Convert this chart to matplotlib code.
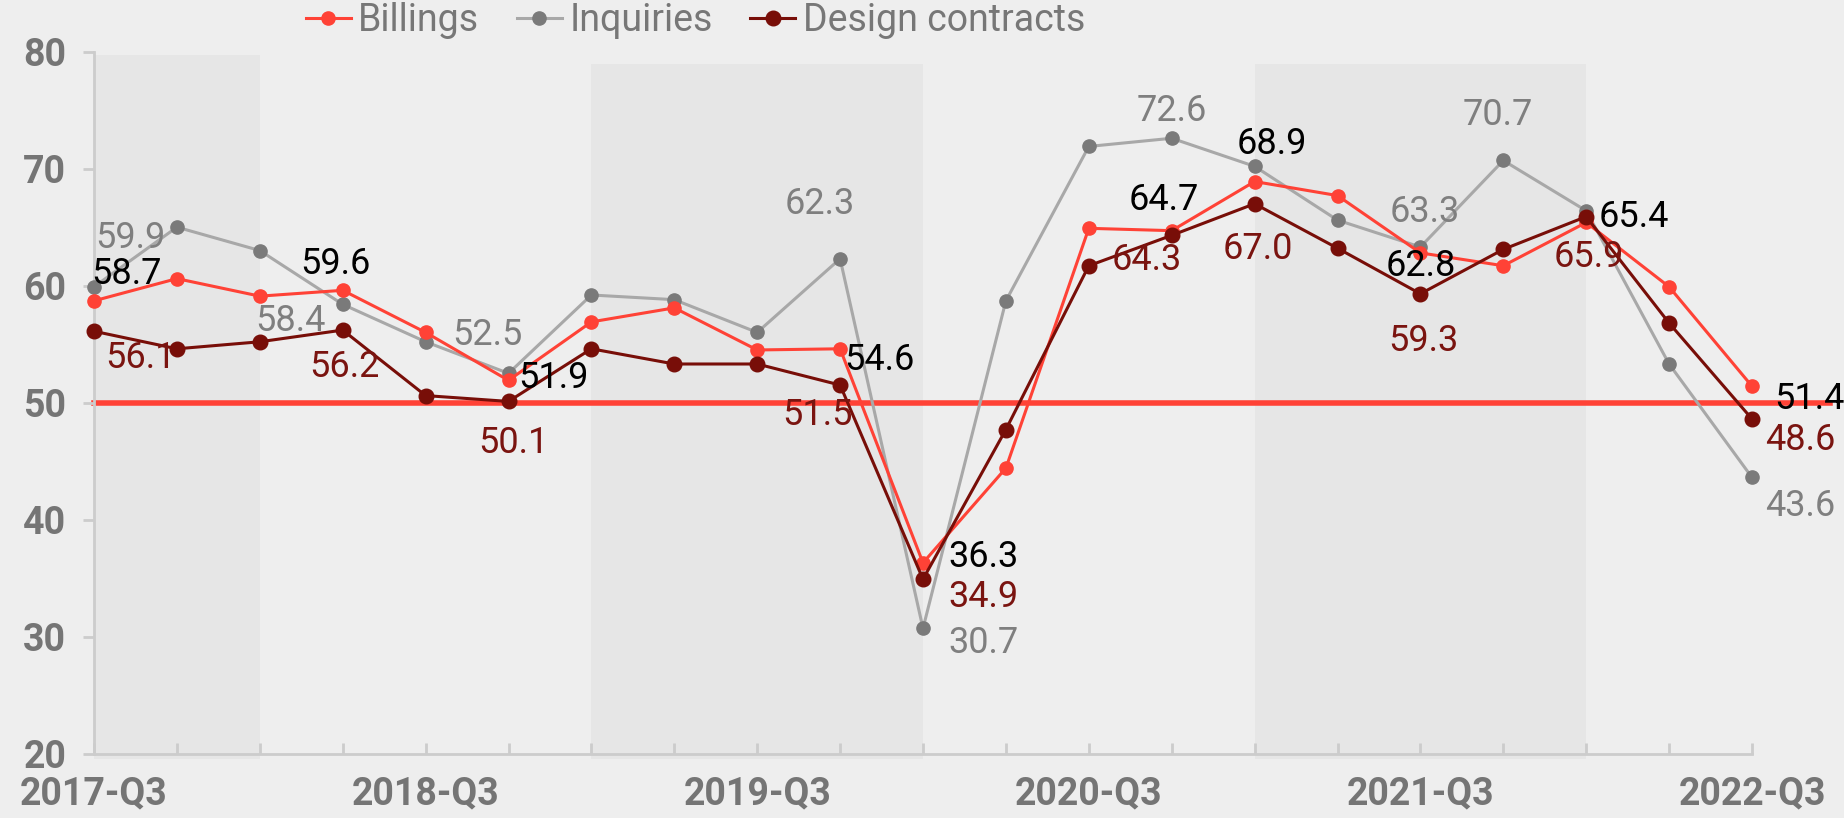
import matplotlib
matplotlib.use("Agg")
import matplotlib.pyplot as plt

# quarterly indices, 2017-Q3 .. 2022-Q3
quarters = ["2017-Q3", "2017-Q4", "2018-Q1", "2018-Q2", "2018-Q3", "2018-Q4",
            "2019-Q1", "2019-Q2", "2019-Q3", "2019-Q4", "2020-Q1", "2020-Q2",
            "2020-Q3", "2020-Q4", "2021-Q1", "2021-Q2", "2021-Q3", "2021-Q4",
            "2022-Q1", "2022-Q2", "2022-Q3"]
billings = [58.7, 60.6, 59.1, 59.6, 56.0, 51.9, 56.9, 58.1, 54.5, 54.6, 36.3,
            44.4, 64.9, 64.7, 68.9, 67.7, 62.8, 61.7, 65.4, 59.9, 51.4]
inquiries = [59.9, 65.0, 63.0, 58.4, 55.2, 52.5, 59.2, 58.8, 56.0, 62.3, 30.7,
             58.7, 71.9, 72.6, 70.2, 65.6, 63.3, 70.7, 66.4, 53.3, 43.6]
design = [56.1, 54.6, 55.2, 56.2, 50.6, 50.1, 54.6, 53.3, 53.3, 51.5, 34.9,
          47.7, 61.7, 64.3, 67.0, 63.2, 59.3, 63.1, 65.9, 56.8, 48.6]
threshold = 50

# label placement: index -> (dx px, dy px down, ha)
bill_lab = {0: (-3, -30, "left"), 3: (-7, -29, "center"), 5: (10, -5, "left"),
            9: (4, 8, "left"), 10: (25, -9, "left"), 13: (-8, -34, "center"),
            14: (17, -41, "center"), 16: (0, 10, "center"), 18: (12, -8, "left"),
            20: (22, 10, "left")}
inq_lab = {0: (1, -52, "left"), 3: (-52, 14, "center"), 5: (-21, -41, "center"),
           9: (-20, -58, "center"), 10: (25, 12, "left"), 13: (0, -30, "center"),
           16: (4, -38, "center"), 17: (-5, -48, "center"), 20: (13, 26, "left")}
des_lab = {0: (11, 24, "left"), 3: (2, 34, "center"), 5: (5, 39, "center"),
           9: (-23, 27, "center"), 10: (25, 15, "left"), 13: (-25, 22, "center"),
           14: (3, 42, "center"), 16: (3, 44, "center"), 18: (3, 37, "center"),
           20: (13, 18, "left")}

RED = "#FF4236"
DARK = "#780E08"
GREY_L = "#A8A8A8"
GREY_M = "#7A7A7A"
BG = "#EEEEEE"

fig = plt.figure(figsize=(18.44, 8.18), dpi=100, facecolor=BG)
ax = fig.add_axes([94 / 1844, 1 - 753.5 / 818, (1752 - 94) / 1844, (753.5 - 51.7) / 818])
ax.set_facecolor(BG)

x = list(range(len(quarters)))

# alternating year bands
for a, b, top in [(0, 2, 0.995), (6, 10, 0.982), (14, 18, 0.982)]:
    ax.axvspan(a, b, ymin=-0.008, ymax=top, color="#E6E6E6", lw=0, zorder=0, clip_on=False)

ax.axhline(threshold, xmin=0, xmax=1.047, color=RED, lw=4, zorder=1, clip_on=False)

ax.plot(x, inquiries, color=GREY_L, lw=2.2, marker="o", ms=9.5, mfc=GREY_M, mec=GREY_M,
        label="Inquiries", zorder=3, clip_on=False)
ax.plot(x, billings, color=RED, lw=2.2, marker="o", ms=9.5, mfc=RED, mec=RED,
        label="Billings", zorder=4, clip_on=False)
ax.plot(x, design, color=DARK, lw=2.2, marker="o", ms=10.5, mfc=DARK, mec=DARK,
        label="Design contracts", zorder=5, clip_on=False)

lab_font = dict(family="Roboto", weight="normal", size=26)
for vals, labs, col in [(billings, bill_lab, "black"), (inquiries, inq_lab, "#7F7F7F"),
                        (design, des_lab, "#7A1410")]:
    for i, (dx, dy, ha) in labs.items():
        ax.annotate(f"{vals[i]:.1f}", (x[i], vals[i]), xytext=(dx, -(dy + 13)),
                    textcoords="offset pixels", ha=ha, va="baseline", color=col,
                    zorder=6, **lab_font)

ax.set_xlim(0, 20)
ax.set_ylim(20, 80)
ax.set_yticks(range(20, 81, 10))
ax.set_xticks(x)
ax.set_xticklabels([q if i % 4 == 0 else "" for i, q in enumerate(quarters)])

for s in ["top", "right"]:
    ax.spines[s].set_visible(False)
for s in ["left", "bottom"]:
    ax.spines[s].set_color("#CCCCCC")
    ax.spines[s].set_linewidth(2)
ax.tick_params(axis="y", direction="out", length=8, width=2, color="#CCCCCC", pad=12)
ax.tick_params(axis="x", direction="in", length=8, width=2, color="#CCCCCC", pad=16)
for t in ax.get_xticklabels() + ax.get_yticklabels():
    t.set_fontfamily("Roboto")
    t.set_fontweight("bold")
    t.set_fontsize(27)
    t.set_color("#757575")

h, l = ax.get_legend_handles_labels()
order = [1, 0, 2]
fig.legend([h[k] for k in order], [l[k] for k in order], loc="center",
           bbox_to_anchor=(0.377, 0.975), ncol=3, frameon=False,
           prop=dict(family="Roboto", size=27), labelcolor="#777777",
           handlelength=1.2, handletextpad=0.2, columnspacing=1.0)

fig.savefig("out.png", dpi=100, facecolor=BG)
